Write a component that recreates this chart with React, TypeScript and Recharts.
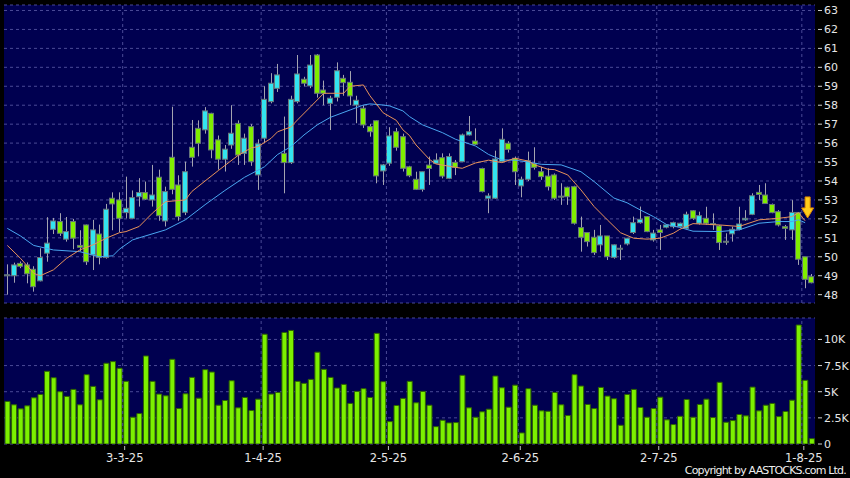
import React from "react";
import {
  ComposedChart,
  Bar,
  Line,
  XAxis,
  YAxis,
  CartesianGrid,
  ReferenceLine,
  ReferenceDot,
} from "recharts";

// daily OHLC (Feb -> early Aug 2025)
const openPx = [
  49.0, 49.0, 49.65, 49.57, 49.34, 48.73, 50.19, 51.45, 51.86, 50.93,
  51.86, 50.6, 51.68, 50.1, 51.2, 49.96, 53.09, 53.0, 52.33, 52.03,
  53.17, 53.39, 53.0, 54.2, 51.89, 55.25, 53.79, 52.35, 55.78, 56.78,
  56.7, 57.57, 56.17, 55.15, 55.9, 57.04, 55.46, 56.87, 54.32, 56.26,
  58.19, 58.89, 55.46, 54.97, 58.19, 59.37, 59.02, 60.65, 58.8, 58.1,
  58.42, 59.42, 59.21, 58.01, 57.84, 56.87, 57.18, 54.53, 54.94, 56.6,
  56.34, 54.75, 54.09, 53.56, 54.84, 54.93, 55.23, 54.14, 54.98, 55.02,
  56.43, 56.11, 54.66, 53.09, 53.09, 55.02, 55.99, 55.2, 53.74, 54.09,
  54.93, 54.49, 54.26, 54.32, 53.2, 53.67, 53.7, 51.54, 51.28, 51.03,
  50.63, 51.1, 49.97, 50.4, 50.68, 51.28, 51.8, 52.12, 50.89, 51.42,
  51.56, 51.59, 51.59, 51.5, 52.43, 51.77, 52.03, 51.75, 51.63, 50.82,
  51.21, 51.45, 51.95, 52.24, 53.4, 53.26, 52.76, 52.38, 51.59, 51.42,
  52.34, 50.0, 48.95,
];
const highPx = [
  49.6, 49.69, 49.75, 49.7, 49.5, 50.45, 52.09, 52.05, 52.3, 52.1,
  52.0, 51.4, 51.7, 51.95, 51.7, 52.79, 53.4, 53.4, 54.23, 53.5,
  54.15, 53.97, 54.85, 54.6, 53.7, 57.92, 54.3, 55.02, 57.22, 57.2,
  57.9, 57.6, 56.4, 55.9, 58.0, 57.2, 56.5, 57.0, 56.2, 59.0,
  59.69, 60.18, 57.4, 58.5, 60.65, 59.5, 60.65, 60.7, 59.3, 58.5,
  60.26, 59.6, 59.8, 58.5, 58.0, 57.0, 57.2, 54.9, 56.84, 56.8,
  56.5, 54.8, 54.49, 54.5, 55.29, 55.46, 55.46, 55.46, 55.11, 56.5,
  57.43, 56.78, 54.7, 53.35, 55.6, 56.78, 56.1, 55.29, 54.23, 55.55,
  55.78, 54.75, 54.67, 54.4, 53.88, 53.7, 53.75, 52.12, 51.3, 51.42,
  51.68, 51.1, 50.65, 50.63, 51.0, 52.12, 52.65, 52.15, 51.42, 51.68,
  51.7, 51.85, 51.8, 52.38, 52.46, 52.38, 52.64, 52.29, 51.68, 51.24,
  51.59, 52.64, 52.46, 53.35, 53.79, 53.88, 52.81, 52.46, 51.68, 52.99,
  52.35, 50.0, 49.09,
];
const lowPx = [
  48.0, 48.63, 49.4, 48.6, 48.16, 48.7, 49.74, 51.2, 51.1, 50.8,
  50.4, 50.3, 49.57, 49.3, 49.6, 49.9, 51.4, 51.3, 52.03, 52.0,
  52.65, 53.0, 52.65, 51.9, 51.6, 53.3, 51.9, 52.2, 54.76, 55.3,
  56.5, 55.2, 54.6, 54.5, 55.7, 54.85, 54.85, 54.8, 53.53, 56.0,
  58.1, 58.7, 53.35, 54.9, 58.1, 59.0, 58.9, 58.4, 58.0, 56.69,
  58.2, 58.5, 58.0, 57.05, 56.8, 56.34, 53.88, 53.79, 54.8, 55.6,
  54.5, 54.2, 53.53, 53.44, 53.79, 54.9, 54.14, 54.1, 54.31, 55.0,
  56.4, 55.9, 53.4, 52.3, 53.05, 55.0, 55.5, 53.79, 53.14, 54.0,
  54.6, 54.06, 53.5, 53.0, 52.74, 52.74, 51.7, 50.27, 50.54, 50.1,
  50.27, 49.83, 49.9, 49.83, 50.6, 51.2, 51.75, 51.3, 50.8, 50.36,
  51.5, 51.5, 51.55, 51.45, 51.95, 51.7, 51.7, 51.42, 50.36, 50.63,
  50.8, 51.4, 51.9, 52.2, 52.99, 52.8, 52.3, 51.6, 50.89, 50.89,
  49.57, 48.34, 48.6,
];
const closePx = [
  49.05, 49.57, 49.5, 49.1, 48.42, 49.96, 50.72, 51.89, 51.24, 51.33,
  50.98, 50.5, 49.74, 51.42, 49.96, 52.51, 52.79, 52.03, 52.56, 53.12,
  53.39, 53.04, 53.26, 52.17, 53.44, 53.56, 52.12, 54.49, 55.25, 55.99,
  57.7, 55.64, 55.15, 55.68, 56.52, 55.37, 56.26, 55.02, 55.96, 58.31,
  59.16, 59.6, 54.97, 58.31, 59.65, 59.16, 60.12, 58.63, 58.63, 58.37,
  59.82, 59.19, 58.49, 58.26, 56.96, 56.6, 54.27, 54.85, 56.38, 55.78,
  54.67, 54.28, 53.56, 54.49, 54.66, 55.11, 54.26, 55.29, 54.72, 56.43,
  56.6, 55.94, 53.44, 53.21, 55.16, 56.2, 55.67, 54.49, 54.09, 55.07,
  54.72, 54.23, 53.7, 53.09, 53.15, 53.17, 51.77, 51.03, 50.8, 50.22,
  51.1, 50.01, 50.63, 50.45, 50.98, 51.8, 51.98, 51.33, 51.25, 51.28,
  51.68, 51.8, 51.77, 52.24, 52.03, 52.17, 51.77, 51.72, 50.75, 50.8,
  51.45, 51.73, 52.03, 53.22, 53.29, 52.81, 52.33, 51.68, 51.5, 52.34,
  49.87, 48.81, 48.63,
];
const volume = [
  4070, 3750, 3360, 3650, 4420, 4740, 6950, 6340, 5000, 4550,
  5220, 3750, 6630, 5510, 4230, 7720, 7880, 7240, 5990, 2560,
  2910, 8420, 5990, 4770, 4610, 8100, 3390, 4800, 6370, 4380,
  7110, 6880, 3710, 4160, 6050, 3460, 4450, 3200, 4290, 10500,
  4770, 4930, 10670, 10860, 5990, 5800, 6180, 8780, 7140, 6370,
  5350, 5700, 3880, 5030, 5290, 4450, 10580, 5960, 2140, 3680,
  4360, 5990, 3940, 5030, 3710, 1660, 2270, 2020, 2050, 6570,
  3460, 2560, 3080, 3330, 6500, 5380, 3520, 5630, 1060, 5290,
  3710, 3170, 3130, 4930, 3750, 2720, 6630, 5540, 3780, 3390,
  5410, 4580, 4330, 1790, 4740, 5220, 3490, 2560, 3390, 4480,
  2310, 1860, 2650, 4260, 2560, 3780, 4290, 2530, 5900, 2080,
  2240, 2820, 2690, 5440, 3170, 3710, 3880, 2620, 3110, 4190,
  11380, 6090, 510,
];

// moving averages: [bar index, value]
const maFastPts: [number, number][] = [
  [0, 50.6], [2, 49.92], [4, 49.13], [5, 49.0], [7, 49.31], [9, 49.92],
  [11, 50.36], [13, 50.63], [15, 50.98], [17, 51.27], [18, 51.33], [20, 51.6],
  [22, 52.3], [24, 52.91], [27, 53.0], [28, 53.45], [32, 54.55], [35, 55.35],
  [37, 55.75], [38, 55.81], [40, 56.25], [41, 56.6], [43, 56.85], [44, 57.22],
  [46, 57.92], [48, 58.63], [51, 58.63], [52, 59.0], [54, 59.07], [55, 58.5],
  [57, 57.6], [59, 57.2], [60, 56.7], [61, 56.4], [62, 55.9], [64, 55.15],
  [65, 54.9], [68, 54.72], [69, 54.67], [71, 54.95], [73, 55.1], [75, 54.97],
  [77, 55.2], [79, 55.05], [80, 54.85], [82, 54.62], [83, 54.6], [85, 54.32],
  [87, 53.53], [89, 52.65], [91, 51.95], [93, 51.27], [95, 50.98], [97, 50.93],
  [99, 50.98], [101, 51.24], [102, 51.45], [104, 51.75], [108, 51.68], [111, 51.6],
  [114, 51.95], [117, 52.03], [119, 52.12], [120, 52.33], [121, 51.9],
];
const maSlowPts: [number, number][] = [
  [0, 51.5], [2, 51.1], [4, 50.6], [7, 50.36], [11, 50.27], [14, 50.0],
  [16, 50.05], [17, 50.4], [19, 50.89], [20, 51.0], [24, 51.42], [27, 51.95],
  [30, 52.75], [33, 53.5], [36, 54.2], [39, 54.75], [41, 55.4], [43, 55.81],
  [45, 56.43], [47, 56.96], [49, 57.36], [52, 57.75], [54, 58.01], [55, 58.07],
  [57, 58.01], [58, 57.96], [60, 57.7], [61, 57.4], [63, 56.96], [66, 56.55],
  [68, 56.2], [71, 55.85], [73, 55.4], [75, 55.11], [77, 55.1], [79, 55.0],
  [81, 54.88], [84, 54.85], [87, 54.49], [89, 53.97], [92, 53.1], [94, 52.85],
  [96, 52.47], [98, 52.12], [100, 51.7], [102, 51.55], [104, 51.35], [108, 51.33],
  [111, 51.42], [114, 51.77], [117, 51.86], [119, 51.86], [120, 51.95], [121, 51.8],
];

// month boundaries (between bars) and their labels
const monthTicks = [17.5, 38.5, 57.5, 77.5, 98.5, 120.5];
const monthLabels = ["3-3-25", "1-4-25", "2-5-25", "2-6-25", "2-7-25", "1-8-25"];
const priceTicks = [48, 49, 50, 51, 52, 53, 54, 55, 56, 57, 58, 59, 60, 61, 62, 63];
const volTicks = [0, 2500, 5000, 7500, 10000];
const volTickLabels = ["0", "2.5K", "5K", "7.5K", "10K"];

const BG = "#000050";
const GRID = "#4a4a96";
const UP = "#33e4f0";
const DOWN = "#80ee00";
const EDGE = "#66747a";
const WICK = "#a4a4b0";
const FONT = "DejaVu Sans, sans-serif";
const LAST = closePx.length - 1;

const maFast: (number | null)[] = closePx.map(() => null);
maFastPts.forEach(([i, v]) => (maFast[i] = v));
const maSlow: (number | null)[] = closePx.map(() => null);
maSlowPts.forEach(([i, v]) => (maSlow[i] = v));

const rows = closePx.map((c, i) => ({
  i,
  open: openPx[i],
  high: highPx[i],
  low: lowPx[i],
  close: c,
  range: [lowPx[i], highPx[i]],
  vol: volume[i],
  maFast: maFast[i],
  maSlow: maSlow[i],
}));

const Candle = (props: any) => {
  const { x, y, width, height, payload } = props;
  if (x == null || payload == null) return null;
  const top = Math.min(y, y + height);
  const h = Math.abs(height);
  const span = payload.high - payload.low || 1;
  const k = h / span;
  const py = (v: number) => top + (payload.high - v) * k;
  const c = Math.floor(x + width / 2);
  const yo = py(payload.open);
  const yc = py(payload.close);
  const bodyTop = Math.min(yo, yc);
  const bodyH = Math.max(Math.abs(yo - yc), 1);
  const up = payload.close >= payload.open;
  return (
    <g>
      <line x1={c + 0.5} x2={c + 0.5} y1={top} y2={top + h} stroke={WICK} strokeWidth={1} />
      <rect
        x={c - 2.5}
        y={bodyTop}
        width={5}
        height={bodyH}
        fill={up ? UP : DOWN}
        stroke={EDGE}
        strokeWidth={1}
      />
    </g>
  );
};

const RightTick = (props: any) => {
  const { x, y, payload, labels } = props;
  const text = labels ? labels[volTicks.indexOf(payload.value)] : payload.value;
  return (
    <g>
      <line x1={x + 3} x2={x + 7} y1={y} y2={y} stroke="#d0d0d0" />
      <text x={x + 9} y={y} dy={4} fill="#e6e6e6" fontSize={11} fontFamily={FONT}>
        {text}
      </text>
    </g>
  );
};

const DateTick = (props: any) => {
  const { x, y, payload } = props;
  const k = monthTicks.indexOf(payload.value);
  if (k < 0) return null;
  return (
    <g>
      <line x1={x + 2} x2={x + 2} y1={y + 2} y2={y + 6} stroke="#c0c0c0" />
      <text x={x + 2} y={y + 17.5} textAnchor="middle" fill="#e6e6e6" fontSize={11.5} fontFamily={FONT}>
        {monthLabels[k]}
      </text>
    </g>
  );
};

const Arrow = (props: any) => {
  const { cx, cy } = props;
  if (cx == null) return null;
  const ax = cx + 2.5;
  const d = `M${ax - 2.5},${cy - 10} L${ax + 2.5},${cy - 10} L${ax + 2.5},${cy + 1} L${ax + 6},${cy + 1} L${ax},${cy + 11} L${ax - 6},${cy + 1} L${ax - 2.5},${cy + 1} Z`;
  return <path d={d} fill="#ffcc1a" stroke="#e08a00" strokeWidth={1} />;
};

const xDomain = [-0.5, LAST + 0.5];

export default function App() {
  return (
    <div
      style={{
        position: "absolute",
        left: 0,
        top: 0,
        width: 850,
        height: 478,
        background: "#000",
        overflow: "hidden",
      }}
    >
      <div style={{ position: "absolute", left: 0, top: 0 }}>
        <ComposedChart
          width={850}
          height={310}
          data={rows}
          margin={{ top: 5, right: 0, bottom: 7, left: 4 }}
        >
          <CartesianGrid
            vertical={false}
            stroke={GRID}
            strokeDasharray="3 3"
            fill={BG}
            fillOpacity={1}
          />
          <XAxis type="number" dataKey="i" domain={xDomain} hide />
          <YAxis
            orientation="right"
            type="number"
            domain={[47.56, 63.29]}
            ticks={priceTicks}
            allowDataOverflow
            width={35}
            axisLine={false}
            tickLine={false}
            tickSize={0}
            tickMargin={0}
            interval={0}
            tick={<RightTick />}
          />
          {monthTicks.map((t) => (
            <ReferenceLine key={t} x={t} stroke={GRID} strokeDasharray="3 3" />
          ))}
          <Bar
            dataKey="range"
            barSize={5}
            shape={<Candle />}
            isAnimationActive={false}
          />
          <Line
            dataKey="maSlow"
            stroke="#4aa6f0"
            strokeWidth={1}
            dot={false}
            connectNulls
            isAnimationActive={false}
          />
          <Line
            dataKey="maFast"
            stroke="#e8925a"
            strokeWidth={1}
            dot={false}
            connectNulls
            isAnimationActive={false}
          />
          <ReferenceDot x={LAST - 1} y={52.63} r={6} shape={<Arrow />} />
        </ComposedChart>
      </div>
      <div style={{ position: "absolute", left: 0, top: 310 }}>
        <ComposedChart
          width={850}
          height={160}
          data={rows}
          margin={{ top: 8, right: 0, bottom: 0, left: 4 }}
        >
          <CartesianGrid
            vertical={false}
            stroke={GRID}
            strokeDasharray="3 3"
            fill={BG}
            fillOpacity={1}
          />
          <XAxis
            type="number"
            dataKey="i"
            domain={xDomain}
            ticks={monthTicks}
            interval={0}
            height={26}
            axisLine={false}
            tickLine={false}
            tickSize={0}
            tickMargin={0}
            tick={<DateTick />}
          />
          <YAxis
            orientation="right"
            type="number"
            domain={[0, 12050]}
            ticks={volTicks}
            allowDataOverflow
            width={35}
            axisLine={false}
            tickLine={false}
            tickSize={0}
            tickMargin={0}
            interval={0}
            tick={<RightTick labels={volTickLabels} />}
          />
          {monthTicks.map((t) => (
            <ReferenceLine key={t} x={t} stroke={GRID} strokeDasharray="3 3" />
          ))}
          <Bar
            dataKey="vol"
            barSize={5}
            fill="#7cf000"
            stroke="#2f6400"
            strokeWidth={1}
            isAnimationActive={false}
          />
        </ComposedChart>
      </div>
      <div
        style={{
          position: "absolute",
          right: 4,
          top: 465,
          color: "#eeeeee",
          fontFamily: FONT,
          fontSize: 11,
          lineHeight: "12px",
          letterSpacing: "-0.8px",
          whiteSpace: "nowrap",
        }}
      >
        Copyright by AASTOCKS.com Ltd.
      </div>
    </div>
  );
}
